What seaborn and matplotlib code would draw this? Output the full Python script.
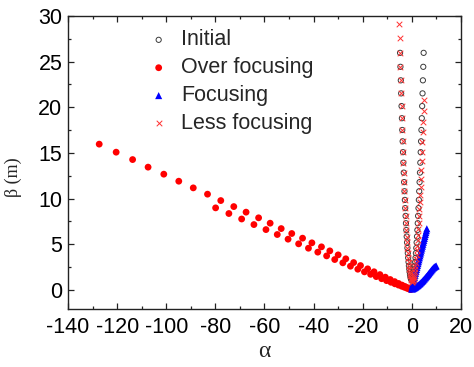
import matplotlib
matplotlib.use("Agg")
import matplotlib.pyplot as plt
from matplotlib.ticker import MultipleLocator
import seaborn as sns

# Twiss parameters (alpha, beta in m) for each optics setting
initial_alpha = [-4.8, -4.65, -4.5, -4.35, -4.2, -4.05, -3.9, -3.75, -3.6, -3.45, -3.3,
                 -3.15, -3.0, -2.85, -2.7, -2.55, -2.4, -2.25, -2.1, -1.95, -1.8, -1.65,
                 -1.5, -1.35, -1.2, -1.05, -0.9, -0.75, -0.6, -0.45, -0.3, -0.15, 0.0,
                 0.15, 0.3, 0.45, 0.6, 0.75, 0.9, 1.05, 1.2, 1.35, 1.5, 1.65, 1.8, 1.95,
                 2.1, 2.25, 2.4, 2.55, 2.7, 2.85, 3.0, 3.15, 3.3, 3.45, 3.6, 3.75, 3.9,
                 4.05, 4.2, 4.35, 4.5, 4.65, 4.8]
initial_beta = [25.96, 24.43, 22.95, 21.52, 20.13, 18.80, 17.51, 16.27, 15.08, 13.93, 12.84,
                11.80, 10.80, 9.85, 8.95, 8.10, 7.30, 6.55, 5.84, 5.19, 4.58, 4.02,
                3.51, 3.05, 2.64, 2.27, 1.95, 1.69, 1.47, 1.30, 1.18, 1.10, 1.08,
                1.10, 1.18, 1.30, 1.47, 1.69, 1.95, 2.27, 2.64, 3.05, 3.51, 4.02, 4.58, 5.19,
                5.84, 6.55, 7.30, 8.10, 8.95, 9.85, 10.80, 11.80, 12.84, 13.93, 15.08, 16.27, 17.51,
                18.80, 20.13, 21.52, 22.95, 24.43, 25.96]

over_alpha = [-127.3, -120.4, -113.7, -107.4, -101.0, -94.9, -89.0, -83.2, -77.8, -72.5,
              -67.5, -62.4, -57.7, -53.2, -48.9, -44.5, -40.7, -36.8, -33.4, -30.0,
              -26.9, -23.7, -20.9, -18.0, -15.4, -13.0, -10.8, -8.8, -7.0, -5.4,
              -4.0, -2.8, -1.8, -1.0, -0.4,
              -79.9, -74.5, -69.3, -64.3, -59.4, -54.8, -50.4, -46.1, -42.1, -38.3,
              -34.7, -31.4, -28.1, -25.0, -22.0, -19.3, -16.8, -14.5, -12.3, -10.3,
              -8.5, -6.9, -5.4, -4.1, -3.0, -2.0, -1.2, -0.5]
over_beta = [15.96, 15.08, 14.27, 13.44, 12.67, 11.90, 11.17, 10.48, 9.78, 9.12,
             8.51, 7.89, 7.30, 6.71, 6.17, 5.66, 5.15, 4.71, 4.27, 3.83,
             3.40, 2.99, 2.66, 2.30, 1.98, 1.67, 1.39, 1.13, 0.90, 0.70,
             0.52, 0.37, 0.24, 0.14, 0.06,
             8.98, 8.36, 7.76, 7.15, 6.60, 6.06, 5.55, 5.04, 4.56, 4.13,
             3.72, 3.32, 2.96, 2.59, 2.26, 1.97, 1.70, 1.45, 1.22, 1.01,
             0.83, 0.66, 0.52, 0.39, 0.28, 0.18, 0.10, 0.04]

focus_alpha = [-0.1, 0.1, 0.3, 0.5, 0.7, 0.9, 1.1, 1.3, 1.5, 1.7, 1.9, 2.1, 2.3, 2.5,
               2.7, 2.9, 3.1, 3.3, 3.5, 3.7, 3.9, 4.1, 4.3, 4.5, 4.7, 4.9, 5.1, 5.3,
               5.5, 5.7, 5.9, 6.1,
               0.3, 0.6, 0.9, 1.2, 1.5, 1.8, 2.1, 2.4, 2.7, 3.0, 3.3, 3.6, 3.9, 4.2,
               4.5, 4.8, 5.1, 5.4, 5.7, 6.0, 6.3, 6.6, 6.9, 7.2, 7.5, 7.8, 8.1, 8.4,
               8.7, 9.0, 9.3, 9.6, 9.9]
focus_beta = [0.10, 0.32, 0.53, 0.74, 0.96, 1.17, 1.38, 1.59, 1.81, 2.02, 2.23, 2.44, 2.66,
              2.87, 3.08, 3.29, 3.51, 3.72, 3.93, 4.14, 4.36, 4.57, 4.78, 4.99, 5.21,
              5.42, 5.63, 5.84, 6.06, 6.27, 6.48, 6.69,
              0.10, 0.14, 0.19, 0.24, 0.29, 0.35, 0.41, 0.47, 0.54, 0.61, 0.68, 0.76,
              0.84, 0.92, 1.01, 1.10, 1.19, 1.29, 1.38, 1.48, 1.58, 1.68, 1.78, 1.89,
              1.99, 2.09, 2.19, 2.29, 2.38, 2.46, 2.52, 2.57, 2.62]

less_alpha = [-5.1, -4.95, -4.8, -4.65, -4.5, -4.35, -4.2, -4.05, -3.9, -3.75, -3.6, -3.45,
              -3.3, -3.15, -3.0, -2.85, -2.7, -2.55, -2.4, -2.25, -2.1, -1.95, -1.8,
              -1.65, -1.5, -1.35, -1.2, -1.05, -0.9, -0.75, -0.6, -0.45, -0.3, -0.15, 0.0,
              0.1, 0.25, 0.4, 0.55, 0.7, 0.85, 1.0, 1.15, 1.3, 1.45, 1.6, 1.75, 1.9, 2.05,
              2.2, 2.35, 2.5, 2.65, 2.8, 2.95, 3.1, 3.25, 3.4, 3.55, 3.7, 3.85, 4.0,
              4.15, 4.3, 4.45, 4.6, 4.75, 4.9]
less_beta = [29.17, 27.54, 25.96, 24.43, 22.95, 21.52, 20.13, 18.80, 17.51, 16.27, 15.08,
             13.93, 12.84, 11.80, 10.80, 9.85, 8.95, 8.10, 7.30, 6.55, 5.84, 5.19, 4.58,
             4.02, 3.51, 3.05, 2.64, 2.27, 1.95, 1.69, 1.47, 1.30, 1.18, 1.10, 1.08,
             0.84, 0.88, 0.96, 1.08, 1.24, 1.43, 1.66, 1.93, 2.23, 2.58, 2.95, 3.37,
             3.83, 4.32, 4.85, 5.41, 6.02, 6.66, 7.34, 8.05, 8.81, 9.60, 10.42, 11.29,
             12.19, 13.13, 14.11, 15.12, 16.18, 17.27, 18.39, 19.56, 20.76]

sns.set_style("ticks")
plt.rcParams["font.family"] = ["Liberation Sans", "DejaVu Sans"]
plt.rcParams["axes.unicode_minus"] = False

fig = plt.figure(figsize=(4.74, 3.67), dpi=100)
ax = fig.add_axes([0.1435, 0.158, 0.829, 0.7985])

sns.scatterplot(x=initial_alpha, y=initial_beta, ax=ax, marker="o", s=14,
                facecolor="none", edgecolor="#3a3a3a", linewidth=0.7, label="Initial")
sns.scatterplot(x=over_alpha, y=over_beta, ax=ax, marker="o", s=24,
                color="#ff0000", edgecolor="none", label="Over focusing")
sns.scatterplot(x=focus_alpha, y=focus_beta, ax=ax, marker="^", s=26,
                color="#0000ff", edgecolor="none", label="Focusing")
sns.scatterplot(x=less_alpha, y=less_beta, ax=ax, marker="x", s=16,
                color="#ff3030", linewidth=0.7, label="Less focusing")

ax.set_xlim(-140, 20)
ax.set_ylim(-2.1, 30)
ax.xaxis.set_major_locator(MultipleLocator(20))
ax.xaxis.set_minor_locator(MultipleLocator(10))
ax.yaxis.set_major_locator(MultipleLocator(5))
ax.yaxis.set_minor_locator(MultipleLocator(2.5))
ax.tick_params(which="both", direction="in", top=True, right=True,
               colors="#222222", labelcolor="black", width=0.9)
ax.tick_params(which="major", length=4.5, labelsize=15.5)
ax.tick_params(which="minor", length=2.5)
ax.tick_params(axis="x", pad=6)
ax.tick_params(axis="y", pad=4)
for sp in ax.spines.values():
    sp.set_visible(True)
    sp.set_linewidth(1.0)
    sp.set_color("#222222")

ax.set_xlabel("α", fontsize=17, family=["Liberation Serif"], labelpad=2)
ax.set_ylabel("β (m)", fontsize=13, family=["Liberation Serif"], labelpad=4)
ax.yaxis.set_label_coords(-0.118, 0.45)

leg = ax.legend(loc="upper left", bbox_to_anchor=(0.154, 1.02), frameon=False,
                fontsize=15.5, handlelength=1.0, handletextpad=0.55,
                labelspacing=0.32, borderpad=0.4)

fig.savefig("out.png", dpi=100)
